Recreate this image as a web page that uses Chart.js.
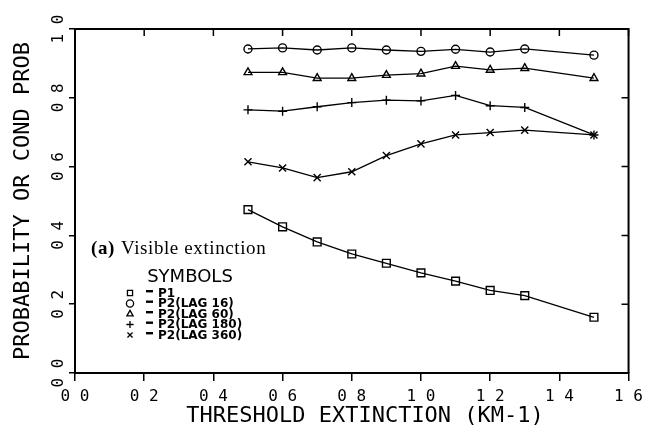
<!DOCTYPE html>
<html>
<head>
<meta charset="utf-8">
<script src="https://cdn.jsdelivr.net/npm/chart.js@4.4.1/dist/chart.umd.min.js"></script>
<style>
html, body { margin: 0; padding: 0; background: #fff; }
</style>
</head>
<body>
<canvas id="myChart" width="649" height="427"></canvas>
<script>
// threshold extinction (km-1) at which each probability was computed
const thresholds = [0.5, 0.6, 0.7, 0.8, 0.9, 1.0, 1.1, 1.2, 1.3, 1.5];
const p1 = [0.475, 0.425, 0.381, 0.346, 0.319, 0.291, 0.267, 0.240, 0.225, 0.162];
const lag16 = [0.942, 0.945, 0.939, 0.945, 0.939, 0.935, 0.941, 0.933, 0.942, 0.924];
const lag60 = [0.874, 0.874, 0.857, 0.857, 0.866, 0.870, 0.892, 0.881, 0.886, 0.857];
const lag180 = [0.765, 0.761, 0.774, 0.786, 0.793, 0.791, 0.807, 0.777, 0.772, 0.692];
const lag360 = [0.614, 0.596, 0.568, 0.585, 0.632, 0.666, 0.692, 0.699, 0.706, 0.692];

const seriesNames = ["P1", "P2(LAG 16)", "P2(LAG 60)", "P2(LAG 180)", "P2(LAG 360)"];
const xTicks = [0, 0.2, 0.4, 0.6, 0.8, 1.0, 1.2, 1.4, 1.6];
const yTicks = [0, 0.2, 0.4, 0.6, 0.8, 1.0];

const series = [
    {values: p1, style: "rect", radius: 5.5},
    {values: lag16, style: "circle", radius: 4},
    {values: lag60, style: "triangle", radius: 4.5},
    {values: lag180, style: "cross", radius: 4.5},
    {values: lag360, style: "crossRot", radius: 5},
];

const mono = "'DejaVu Sans Mono', monospace";
// old plotter style labels: "0 2" instead of "0.2"
const tickText = (v) => v.toFixed(1).replace(".", " ");

const datasets = series.map((s, i) => ({
    label: seriesNames[i],
    data: thresholds.map((t, j) => ({x: t, y: s.values[j]})),
    borderColor: "#000",
    borderWidth: 1.3,
    pointStyle: s.style,
    pointRadius: s.radius,
    pointBorderWidth: 1.4,
    pointBorderColor: "#000",
    pointBackgroundColor: "rgba(0,0,0,0)",
    fill: false,
    tension: 0,
}));

// top/right frame with inward ticks, caption and symbol key
const frame = {
    id: "frame",
    afterDraw(chart) {
        const {ctx, chartArea: a, scales: {x, y}} = chart;
        ctx.save();
        ctx.strokeStyle = "#000";
        ctx.lineWidth = 2;
        ctx.beginPath();
        ctx.moveTo(a.left, a.top);
        ctx.lineTo(a.right, a.top);
        ctx.lineTo(a.right, a.bottom);
        ctx.stroke();
        ctx.lineWidth = 1.5;
        ctx.beginPath();
        x.ticks.forEach((t) => {
            const px = x.getPixelForValue(t.value);
            ctx.moveTo(px, a.top);
            ctx.lineTo(px, a.top + 7);
        });
        y.ticks.forEach((t) => {
            const py = y.getPixelForValue(t.value);
            ctx.moveTo(a.right, py);
            ctx.lineTo(a.right - 7, py);
        });
        ctx.stroke();

        ctx.fillStyle = "#000";
        ctx.textBaseline = "alphabetic";
        ctx.textAlign = "left";
        ctx.letterSpacing = "0.6px";
        ctx.font = "bold 19px 'Liberation Serif', serif";
        ctx.fillText("(a)", 91, 254);
        const w = ctx.measureText("(a)").width;
        ctx.font = "19px 'Liberation Serif', serif";
        ctx.fillText("Visible extinction", 91 + w + 6, 254);
        ctx.letterSpacing = "0px";

        ctx.font = "18px 'DejaVu Sans', sans-serif";
        ctx.textAlign = "center";
        ctx.textBaseline = "middle";
        ctx.fillText("SYMBOLS", 190, 277);

        ctx.textAlign = "left";
        series.forEach((s, i) => {
            const ry = 293 + i * 10.5;
            ctx.lineWidth = 1.3;
            ctx.fillStyle = "rgba(0,0,0,0)";
            Chart.helpers.drawPoint(ctx, {pointStyle: s.style, radius: 3.6, rotation: 0, borderWidth: 1.3}, 130, ry);
            ctx.fillStyle = "#000";
            ctx.fillRect(146, ry - 3, 7, 2.4);
            ctx.font = "bold 12px 'DejaVu Sans', sans-serif";
            ctx.fillText(seriesNames[i], 158, ry + 0.5);
        });
        ctx.restore();
    }
};

new Chart(document.getElementById("myChart"), {
    type: "line",
    data: {datasets},
    plugins: [frame],
    options: {
        responsive: false,
        devicePixelRatio: 1,
        animation: false,
        layout: {padding: {top: 29, right: 19, left: 0, bottom: 0}},
        plugins: {legend: {display: false}, tooltip: {enabled: false}},
        scales: {
            x: {
                type: "linear",
                min: 0,
                max: 1.6,
                afterBuildTicks: (scale) => { scale.ticks = xTicks.map((v) => ({value: v})); },
                afterFit: (scale) => { scale.height = 54; },
                ticks: {
                    callback: (v) => tickText(v),
                    color: "#000",
                    font: {family: mono, size: 16},
                    maxRotation: 0,
                    padding: 6,
                },
                grid: {drawOnChartArea: false, tickLength: 8, color: "#000", lineWidth: 1.5},
                border: {color: "#000", width: 2},
                title: {
                    display: true,
                    text: "  THRESHOLD EXTINCTION (KM-1)",
                    color: "#000",
                    font: {family: mono, size: 22, lineHeight: 1},
                    padding: {top: 0, bottom: 0},
                },
            },
            y: {
                type: "linear",
                min: 0,
                max: 1,
                afterBuildTicks: (scale) => { scale.ticks = yTicks.map((v) => ({value: v})); },
                afterFit: (scale) => { scale.width = 75; },
                ticks: {
                    callback: (v) => tickText(v),
                    color: "#000",
                    font: {family: mono, size: 16},
                    minRotation: 90,
                    maxRotation: 90,
                    crossAlign: "center",
                    padding: -4,
                },
                grid: {drawOnChartArea: false, tickLength: 6, color: "#000", lineWidth: 1.5},
                border: {color: "#000", width: 2},
                title: {
                    display: true,
                    text: "PROBABILITY OR COND PROB",
                    color: "#000",
                    font: {family: mono, size: 22, lineHeight: 1},
                    padding: {top: 12, bottom: 0},
                },
            },
        },
    },
});
</script>
</body>
</html>
